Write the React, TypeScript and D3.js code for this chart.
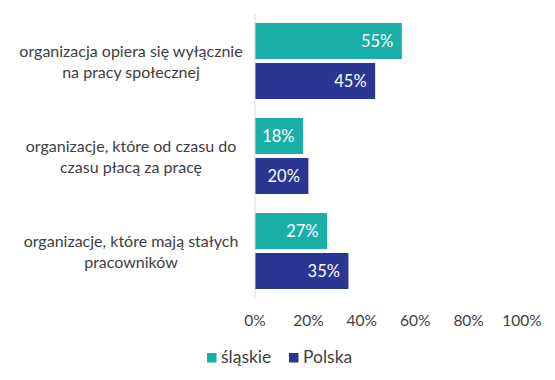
import React from "react";
import * as d3 from "d3";

const categories: string[][] = [
  ["organizacja opiera się wyłącznie", "na pracy społecznej"],
  ["organizacje, które od czasu do", "czasu płacą za pracę"],
  ["organizacje, które mają stałych", "pracowników"],
];
const seriesNames = ["śląskie", "Polska"];
const slaskie = [55, 18, 27];
const polska = [45, 20, 35];
const tickValues = [0, 20, 40, 60, 80, 100];
const colors = ["#1AAEA9", "#2B3592"];

const W = 555;
const H = 380;
const FONT = "Lato, 'Open Sans', sans-serif";
const TEXT = "#404040";

export default function App() {
  const x = d3.scaleLinear().domain([0, 100]).range([255, 522]);
  const y = d3
    .scaleBand<number>()
    .domain(d3.range(categories.length))
    .range([13.5, 298.5])
    .padding(0);
  const inner = d3
    .scaleBand<number>()
    .domain([0, 1])
    .range([9.5, y.bandwidth() - 9.5])
    .paddingInner(0.1)
    .paddingOuter(0);
  const series = [slaskie, polska];

  return (
    <div style={{ position: "absolute", left: 0, top: 0 }}>
      <svg width={W} height={H} style={{ display: "block", fontFamily: FONT }}>
        <rect width={W} height={H} fill="#fff" />
        {categories.map((lines, i) => {
          const cy = (y(i) as number) + y.bandwidth() / 2;
          return (
            <text key={"c" + i} textAnchor="middle" fill={TEXT} fontSize={16}>
              {lines.map((l, j) => (
                <tspan key={j} x={131} y={cy - 4 + j * 20.5}>
                  {l}
                </tspan>
              ))}
            </text>
          );
        })}
        {series.map((vals, s) =>
          vals.map((v, i) => {
            const by = (y(i) as number) + (inner(s) as number);
            const bh = inner.bandwidth();
            return (
              <g key={`b${s}-${i}`}>
                <rect x={x(0)} y={by} width={x(v) - x(0)} height={bh} fill={colors[s]} />
                <text
                  x={x(v) - 8.5}
                  y={by + bh / 2}
                  dy="0.36em"
                  textAnchor="end"
                  fill="#fff"
                  fontSize={16.5}
                >
                  {v}%
                </text>
              </g>
            );
          })
        )}
        <line x1={x(0)} x2={x(0)} y1={14} y2={299} stroke="#D9D9D9" strokeWidth={1} />
        {tickValues.map((t) => (
          <text key={"t" + t} x={x(t)} y={326} textAnchor="middle" fill={TEXT} fontSize={15.5}>
            {t}%
          </text>
        ))}
        {seriesNames.map((n, i) => {
          const lx = [207, 289][i];
          return (
            <g key={"l" + i}>
              <rect x={lx} y={353} width={9.5} height={9.5} fill={colors[i]} />
              <text x={lx + 14} y={363} fill={TEXT} fontSize={17.5}>
                {n}
              </text>
            </g>
          );
        })}
      </svg>
    </div>
  );
}
